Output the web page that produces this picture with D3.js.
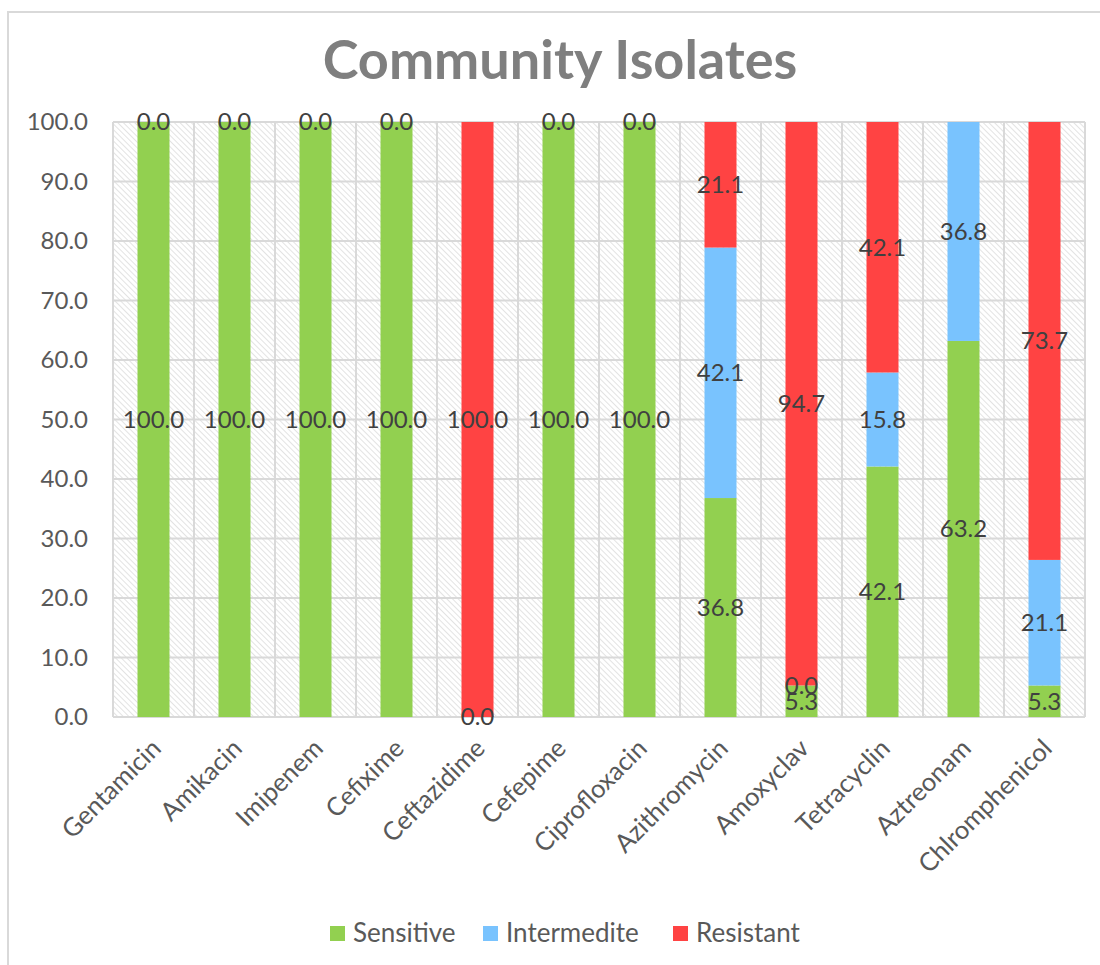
<!DOCTYPE html>
<html>
<head>
<meta charset="utf-8">
<script src="https://cdn.jsdelivr.net/npm/d3@7"></script>
<style>
  html, body { margin: 0; padding: 0; background: #fff; }
  svg { display: block; }
  text { font-family: Lato, "Open Sans", sans-serif; }
</style>
</head>
<body>
<svg id="chart" width="1100" height="965"></svg>
<script>
// Antibiotic susceptibility of community isolates (%)
const categories = ["Gentamicin", "Amikacin", "Imipenem", "Cefixime", "Ceftazidime", "Cefepime",
  "Ciprofloxacin", "Azithromycin", "Amoxyclav", "Tetracyclin", "Aztreonam", "Chlromphenicol"];
const sensitive    = [100.0, 100.0, 100.0, 100.0, 0.0, 100.0, 100.0, 36.8, 5.3, 42.1, 63.2, 5.3];
const intermediate = [null, null, null, null, null, null, null, 42.1, 0.0, 15.8, 36.8, 21.1];
const resistant    = [0.0, 0.0, 0.0, 0.0, 100.0, 0.0, 0.0, 21.1, 94.7, 42.1, null, 73.7];
const seriesNames  = ["Sensitive", "Intermedite", "Resistant"];
const seriesColors = ["#92d050", "#79c3fe", "#ff4343"];
const yTicks = [0, 10, 20, 30, 40, 50, 60, 70, 80, 90, 100];

const svg = d3.select("#chart");
const plot = { left: 113, top: 122, right: 1085, bottom: 717 };

// outer chart frame
svg.append("rect")
  .attr("x", 8).attr("y", 12).attr("width", 1200).attr("height", 1000)
  .attr("fill", "#fff").attr("stroke", "#d9d9d9").attr("stroke-width", 2);

// title
svg.append("text")
  .attr("x", 560).attr("y", 79)
  .attr("text-anchor", "middle")
  .attr("font-size", 54).attr("font-weight", 700)
  .attr("fill", "#7f7f7f")
  .text("Community Isolates");

const x = d3.scaleBand().domain(categories).range([plot.left, plot.right]).paddingInner(0).paddingOuter(0);
const y = d3.scaleLinear().domain([0, 100]).range([plot.bottom, plot.top]);
const barW = 32;

// hatched plot background
const defs = svg.append("defs");
const pat = defs.append("pattern")
  .attr("id", "hatch").attr("patternUnits", "userSpaceOnUse")
  .attr("width", 4).attr("height", 4)
  .attr("patternTransform", "rotate(-45)");
pat.append("rect").attr("width", 4).attr("height", 4).attr("fill", "#fff");
pat.append("line").attr("x1", 0).attr("y1", 0).attr("x2", 0).attr("y2", 4)
  .attr("stroke", "#d4d4d4").attr("stroke-width", 1.3);

svg.append("rect")
  .attr("x", plot.left).attr("y", plot.top)
  .attr("width", plot.right - plot.left).attr("height", plot.bottom - plot.top)
  .attr("fill", "url(#hatch)");

// gridlines
const grid = svg.append("g").attr("stroke", "#d9d9d9").attr("stroke-width", 2);
grid.selectAll("line.h").data(yTicks).join("line")
  .attr("x1", plot.left).attr("x2", plot.right)
  .attr("y1", d => y(d)).attr("y2", d => y(d));
const bounds = categories.map(c => x(c)).concat([plot.right]);
grid.selectAll("line.v").data(bounds).join("line")
  .attr("y1", plot.top).attr("y2", plot.bottom)
  .attr("x1", d => d).attr("x2", d => d);

// y axis labels
const yAxis = d3.axisLeft(y).tickValues(yTicks).tickFormat(d3.format(".1f")).tickSize(0).tickPadding(0);
const yg = svg.append("g").attr("transform", `translate(88,0)`).call(yAxis);
yg.select(".domain").remove();
yg.selectAll("text").attr("font-size", 24).attr("fill", "#595959")
  .attr("font-family", "Lato, sans-serif");

// stacked bars
const rows = categories.map((c, i) => ({ cat: c, vals: [sensitive[i], intermediate[i], resistant[i]] }));
const segs = [];
rows.forEach(r => {
  let base = 0;
  r.vals.forEach((v, k) => {
    if (v === null) return;
    segs.push({ cat: r.cat, k, v, y0: base, y1: base + v });
    base += v;
  });
});

svg.append("g").selectAll("rect").data(segs).join("rect")
  .attr("x", d => x(d.cat) + x.bandwidth() / 2 - barW / 2)
  .attr("width", barW)
  .attr("y", d => y(Math.min(d.y1, 100)))
  .attr("height", d => y(d.y0) - y(Math.min(d.y1, 100)))
  .attr("fill", d => seriesColors[d.k]);

// value labels
svg.append("g").selectAll("text").data(segs).join("text")
  .attr("x", d => x(d.cat) + x.bandwidth() / 2)
  .attr("y", d => y((d.y0 + Math.min(d.y1, 100)) / 2))
  .attr("dy", "0.35em")
  .attr("text-anchor", "middle")
  .attr("font-size", 24).attr("fill", "#404040")
  .text(d => d.v.toFixed(1));

// x axis labels
const xAxis = d3.axisBottom(x).tickSize(0).tickPadding(0);
const xg = svg.append("g").attr("transform", `translate(0,${plot.bottom})`).call(xAxis);
xg.select(".domain").remove();
xg.selectAll("text")
  .attr("font-size", 25.5).attr("fill", "#595959")
  .attr("text-anchor", "end")
  .attr("dy", 0).attr("y", 0)
  .attr("transform", "translate(9,33) rotate(-45)");

// legend
const legendX = [330, 483, 673];
const lg = svg.append("g");
seriesNames.forEach((n, k) => {
  lg.append("rect").attr("x", legendX[k]).attr("y", 926).attr("width", 15).attr("height", 15)
    .attr("fill", seriesColors[k]);
  lg.append("text").attr("x", legendX[k] + 23).attr("y", 933).attr("dy", "0.35em")
    .attr("font-size", 26).attr("fill", "#595959").text(n);
});
</script>
</body>
</html>
